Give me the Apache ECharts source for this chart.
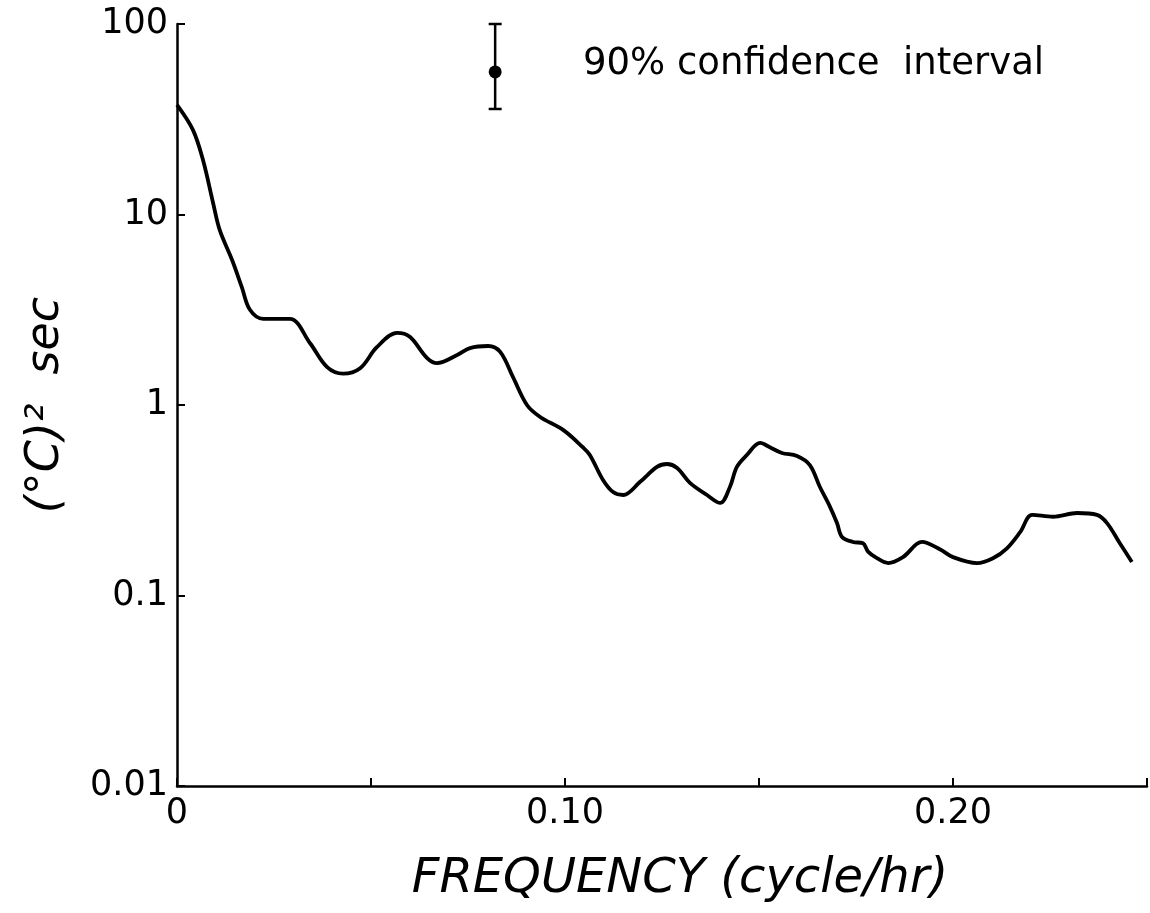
<!DOCTYPE html>
<html>
<head>
<meta charset="utf-8">
<script src="https://cdn.jsdelivr.net/npm/echarts@6/dist/echarts.min.js"></script>
<style>
html,body{margin:0;padding:0;background:#fff;}
#chart{width:1150px;height:913px;}
</style>
</head>
<body>
<div id="chart"></div>
<script>
// Frequency (cycle/hr)
const freq = [0, 0.0041, 0.0067, 0.0093, 0.011, 0.0142, 0.0167, 0.0188, 0.0222, 0.0291,
  0.0343, 0.0387, 0.0428, 0.0472, 0.0515, 0.0567, 0.060, 0.0644, 0.067, 0.0722,
  0.0755, 0.0802, 0.0833, 0.0866, 0.0902, 0.0936, 0.0995, 0.1046, 0.1064, 0.1098,
  0.1124, 0.115, 0.1193, 0.1237, 0.1263, 0.1289, 0.1322, 0.1366, 0.14, 0.1425,
  0.1443, 0.1469, 0.1503, 0.1528, 0.1559, 0.1598, 0.1631, 0.1657, 0.1683, 0.1701,
  0.1714, 0.1742, 0.1768, 0.1781, 0.1804, 0.1833, 0.1871, 0.192, 0.1966, 0.2,
  0.2062, 0.2103, 0.2139, 0.2173, 0.2204, 0.2258, 0.232, 0.2371, 0.2397, 0.243, 0.2461];
// Spectral density ((°C)^2 sec)
const spectrum = [37.6, 27.8, 19.3, 11.5, 8.3, 5.77, 4.16, 3.16, 2.83, 2.83,
  2.11, 1.58, 1.46, 1.56, 2.01, 2.39, 2.28, 1.77, 1.66, 1.83,
  1.99, 2.04, 1.90, 1.40, 1.0, 0.865, 0.74, 0.60, 0.547, 0.404,
  0.349, 0.337, 0.394, 0.473, 0.49, 0.467, 0.39, 0.337, 0.306, 0.371,
  0.473, 0.547, 0.632, 0.60, 0.56, 0.54, 0.484, 0.371, 0.292, 0.24,
  0.203, 0.191, 0.188, 0.170, 0.157, 0.148, 0.159, 0.191, 0.175, 0.159,
  0.148, 0.157, 0.177, 0.215, 0.265, 0.259, 0.271, 0.265, 0.24, 0.188, 0.15];
// 90% confidence interval marker
const ciFreq = 0.082;
const ciCenter = 56;
const ciLow = 35.8;
const ciHigh = 100;
const ciText = '90% confidence  interval';
// Tick labels
const xTickValues = [0, 0.10, 0.20];
const xTickLabels = ['0', '0.10', '0.20'];
const yTickValues = [0.01, 0.1, 1, 10, 100];
const yTickLabels = ['0.01', '0.1', '1', '10', '100'];
const xName = 'FREQUENCY (cycle/hr)';
const yName = '(°C)²  sec';

const FONT = 'DejaVu Sans';
const chart = echarts.init(document.getElementById('chart'), null, {renderer: 'canvas'});
const curve = freq.map((f, i) => [f, spectrum[i]]);

chart.setOption({
  backgroundColor: '#fff',
  animation: false,
  grid: {left: 177, right: 3, top: 24, bottom: 127, containLabel: false},
  xAxis: {
    type: 'value', min: 0, max: 0.25, interval: 0.05,
    name: xName, nameLocation: 'middle', nameGap: 70,
    nameTextStyle: {fontFamily: FONT, fontSize: 48, fontStyle: 'italic', color: '#000', padding: [0, 0, 0, 36]},
    axisLine: {lineStyle: {color: '#000', width: 2.5}},
    axisTick: {inside: true, length: 8, lineStyle: {color: '#000', width: 2}},
    axisLabel: {
      fontFamily: FONT, fontSize: 35, color: '#000', margin: 10,
      formatter: v => {
        const k = xTickValues.findIndex(t => Math.abs(t - v) < 1e-9);
        return k >= 0 ? xTickLabels[k] : '';
      }
    },
    splitLine: {show: false}
  },
  yAxis: {
    type: 'log', logBase: 10, min: 0.01, max: 100,
    name: yName, nameLocation: 'middle', nameGap: 108,
    nameTextStyle: {fontFamily: FONT, fontSize: 46, fontStyle: 'italic', color: '#000'},
    axisLine: {lineStyle: {color: '#000', width: 2.5}},
    axisTick: {inside: true, length: 8, lineStyle: {color: '#000', width: 2}},
    axisLabel: {
      fontFamily: FONT, fontSize: 35, color: '#000', margin: 9,
      formatter: v => {
        const k = yTickValues.findIndex(t => Math.abs(Math.log10(t) - Math.log10(v)) < 1e-6);
        return k >= 0 ? yTickLabels[k] : '';
      }
    },
    splitLine: {show: false}
  },
  graphic: [{
    type: 'text', left: 583, top: 46,
    style: {text: ciText, font: 'normal 37px "DejaVu Sans"', fill: '#000'}
  }],
  series: [
    {
      type: 'line', data: curve, smooth: 0.35, showSymbol: false,
      lineStyle: {color: '#000', width: 3.8}, z: 3
    },
    {
      type: 'line', data: [[ciFreq, ciLow], [ciFreq, ciHigh]],
      symbol: 'rect', symbolSize: [13, 2.5], showSymbol: true, showAllSymbol: true,
      itemStyle: {color: '#000', opacity: 1}, lineStyle: {color: '#000', width: 2.5}
    },
    {
      type: 'scatter', data: [[ciFreq, ciCenter]], symbol: 'circle', symbolSize: 13,
      itemStyle: {color: '#000', opacity: 1}
    }
  ]
});
</script>
</body>
</html>
